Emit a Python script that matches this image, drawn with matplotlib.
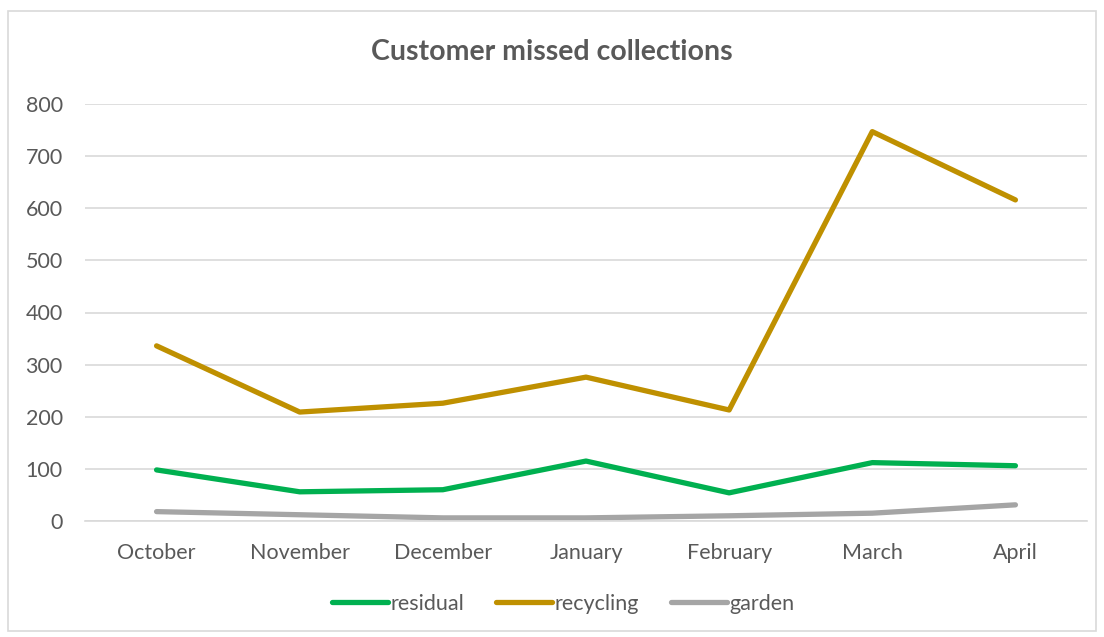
import matplotlib.pyplot as plt
from matplotlib.patches import Rectangle

months = ['October', 'November', 'December', 'January', 'February', 'March', 'April']
residual = [98, 56, 60, 115, 54, 112, 106]
recycling = [336, 209, 226, 276, 213, 747, 616]
garden = [18, 12, 6, 6, 10, 15, 31]

plt.rcParams['font.family'] = ['Lato', 'DejaVu Sans']

fig = plt.figure(figsize=(11.04, 6.37), dpi=100)
ax = fig.add_axes([85 / 1104, 1 - 521 / 637, 1002 / 1104, 417 / 637])

# Outer chart border
fig.patches.append(Rectangle((8 / 1104, 6 / 637), 1088 / 1104, 620 / 637,
                             transform=fig.transFigure, fill=False,
                             edgecolor='#d9d9d9', linewidth=1.2))

x = range(len(months))
ax.plot(x, residual, color='#00b050', linewidth=3.8, label='residual', solid_capstyle='round')
ax.plot(x, recycling, color='#bf9000', linewidth=3.8, label='recycling', solid_capstyle='round')
ax.plot(x, garden, color='#a5a5a5', linewidth=3.8, label='garden', solid_capstyle='round')

ax.set_xlim(-0.5, len(months) - 0.5)
ax.set_ylim(0, 800)
ax.set_yticks(range(0, 801, 100))
ax.set_xticks(list(x))
ax.set_xticklabels(months)
ax.tick_params(axis='both', length=0, labelsize=15.5, colors='#595959')
ax.tick_params(axis='x', pad=16)
ax.tick_params(axis='y', pad=16)
ax.grid(True, axis='y', color='#d9d9d9', linewidth=1.2)
ax.set_axisbelow(True)
for s in ['top', 'right', 'left']:
    ax.spines[s].set_visible(False)
ax.spines['bottom'].set_color('#d9d9d9')
ax.spines['bottom'].set_linewidth(1.2)

fig.text(0.5, 1 - 52 / 637, 'Customer missed collections', ha='center', va='center',
         fontsize=20.5, fontweight='bold', color='#595959')

fig.legend(loc='center', bbox_to_anchor=(0.51, 1 - 604 / 637), ncol=3, frameon=False,
           fontsize=15.5, labelcolor='#595959', handlelength=2.6, handletextpad=0.1,
           columnspacing=1.5)

plt.savefig('out.png', dpi=100)
